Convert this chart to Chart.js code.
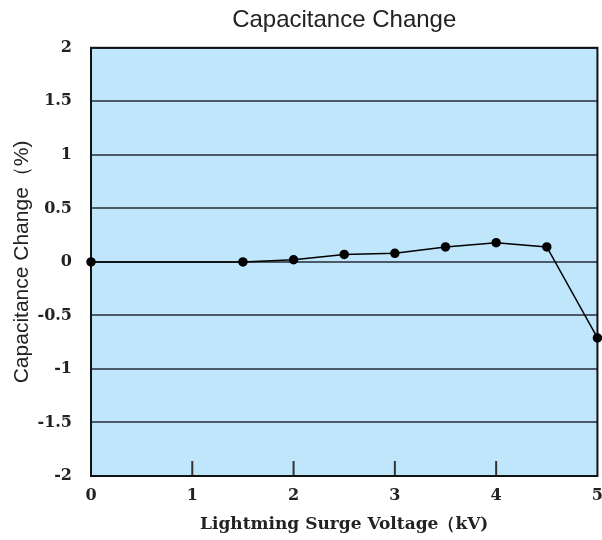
<!DOCTYPE html>
<html>
<head>
<meta charset="utf-8">
<script src="https://cdn.jsdelivr.net/npm/chart.js@4/dist/chart.umd.min.js"></script>
<style>
  html, body { margin: 0; padding: 0; background: #fff; overflow: hidden; }
  #wrap { width: 613px; height: 540px; }
</style>
</head>
<body>
<div id="wrap"><canvas id="cap"></canvas></div>
<script>
// Capacitance change vs lightning surge voltage
var voltage = [0, 1.5, 2, 2.5, 3, 3.5, 4, 4.5, 5];
var change = [0, 0, 0.02, 0.07, 0.08, 0.14, 0.18, 0.14, -0.71];
var xTicks = [0, 1, 2, 3, 4, 5];
var yTicks = [-2, -1.5, -1, -0.5, 0, 0.5, 1, 1.5, 2];

var points = voltage.map(function(v, i) { return { x: v, y: change[i] }; });
var serif = '"DejaVu Serif", "Liberation Serif", serif';
var sans = '"Liberation Sans", Arial, sans-serif';

// light blue plot background + black frame + short inner ticks on the bottom axis
var plotBox = {
	id: 'plotBox',
	beforeDraw: function(chart) {
		var a = chart.chartArea, ctx = chart.ctx;
		ctx.save();
		ctx.fillStyle = '#bfe6fb';
		ctx.fillRect(a.left, a.top, a.right - a.left, a.bottom - a.top);
		ctx.restore();
	},
	beforeDatasetsDraw: function(chart) {
		var a = chart.chartArea, ctx = chart.ctx, xs = chart.scales.x;
		ctx.save();
		ctx.strokeStyle = '#333';
		ctx.lineWidth = 2;
		xTicks.forEach(function(t) {
			if (t === 0 || t === 5) return;
			var px = xs.getPixelForValue(t);
			ctx.beginPath();
			ctx.moveTo(px, a.bottom);
			ctx.lineTo(px, a.bottom - 15);
			ctx.stroke();
		});
		ctx.strokeStyle = '#111';
		ctx.lineWidth = 2;
		ctx.strokeRect(a.left, a.top, a.right - a.left, a.bottom - a.top);
		ctx.restore();
	}
};

window.onload = function() {
	var ctx = document.getElementById('cap').getContext('2d');
	window.capChart = new Chart(ctx, {
		type: 'scatter',
		data: {
			datasets: [{
				label: 'Capacitance Change',
				data: points,
				showLine: true,
				borderColor: '#000',
				borderWidth: 1.5,
				backgroundColor: '#000',
				pointRadius: 4,
				pointHoverRadius: 4,
				clip: false
			}]
		},
		options: {
			responsive: true,
			maintainAspectRatio: false,
			animation: false,
			layout: { padding: { left: 10, right: 0, top: 0, bottom: 7 } },
			plugins: {
				legend: { display: false },
				tooltip: { enabled: false },
				title: {
					display: true,
					fullSize: false,
					text: 'Capacitance Change',
					color: '#222',
					font: { family: sans, size: 24, weight: 'normal' },
					padding: { top: 6, bottom: 13 }
				}
			},
			scales: {
				x: {
					type: 'linear',
					min: 0,
					max: 5,
					afterBuildTicks: function(s) { s.ticks = xTicks.map(function(v) { return { value: v }; }); },
					afterFit: function(s) { s.height = 57; },
					grid: { display: false, drawTicks: false },
					border: { display: false },
					ticks: {
						color: '#222',
						padding: 10,
						font: { family: serif, size: 16, weight: 'bold' },
						callback: function(v) { return String(v); }
					},
					title: {
						display: true,
						text: 'Lightming Surge Voltage（kV)',
						color: '#222',
						font: { family: serif, size: 17, weight: 'bold', lineHeight: 1 },
						padding: { top: 0, bottom: 0 }
					}
				},
				y: {
					min: -2,
					max: 2,
					afterBuildTicks: function(s) { s.ticks = yTicks.map(function(v) { return { value: v }; }); },
					afterFit: function(s) { s.width = 81; },
					grid: {
						color: '#4a5a66',
						lineWidth: 2,
						drawTicks: false
					},
					border: { display: false },
					ticks: {
						color: '#222',
						padding: 19,
						font: { family: serif, size: 16, weight: 'bold' },
						callback: function(v) { return String(v); }
					},
					title: {
						display: true,
						text: 'Capacitance Change（%)',
						color: '#222',
						font: { family: sans, size: 21, weight: 'normal' },
						padding: { top: 0, bottom: 6 }
					}
				}
			}
		},
		plugins: [plotBox]
	});
};
</script>
</body>
</html>
